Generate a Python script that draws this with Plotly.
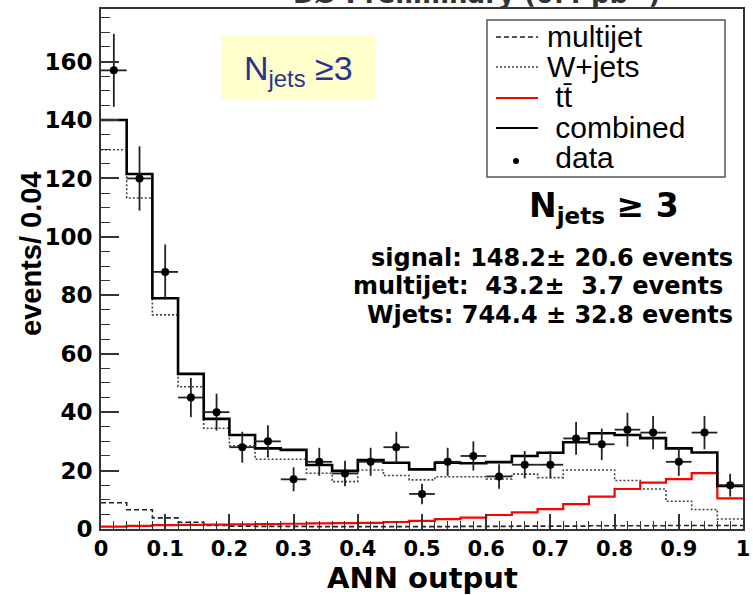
import plotly.graph_objects as go

# ANN output bins (lower edges, width 0.04)
bin_lo = [0.00, 0.04, 0.08, 0.12, 0.16, 0.20, 0.24, 0.28, 0.32, 0.36,
          0.40, 0.44, 0.48, 0.52, 0.56, 0.60, 0.64, 0.68, 0.72, 0.76,
          0.80, 0.84, 0.88, 0.92, 0.96]
bin_hi_last = 1.0
bin_centers = [0.02, 0.06, 0.10, 0.14, 0.18, 0.22, 0.26, 0.30, 0.34, 0.38,
               0.42, 0.46, 0.50, 0.54, 0.58, 0.62, 0.66, 0.70, 0.74, 0.78,
               0.82, 0.86, 0.90, 0.94, 0.98]

data_counts = [157, 120, 88, 45, 40, 28, 30, 17, 23, 19, 23, 28, 12, 23, 25,
               18, 22, 22, 31, 29, 34, 33, 23, 33, 15]
data_err = [12.5, 11.0, 9.4, 6.7, 6.3, 5.3, 5.5, 4.1, 4.8, 4.4, 4.8, 5.3, 3.5,
            4.8, 5.0, 4.2, 4.7, 4.7, 5.6, 5.4, 5.8, 5.7, 4.8, 5.7, 3.9]
multijet = [9.0, 6.6, 3.8, 2.3, 1.2, 1.0, 0.9, 0.9, 0.8, 0.8, 0.8, 0.8, 0.8,
            0.8, 0.9, 0.9, 1.0, 1.0, 1.0, 1.1, 1.1, 1.1, 1.2, 1.2, 1.2]
wjets = [129.8, 113.3, 73.3, 48.7, 34.5, 28.5, 23.9, 23.9, 19.1, 16.2, 20.2,
         18.3, 16.8, 17.9, 17.9, 17.1, 18.8, 17.6, 20.2, 20.2, 16.6, 13.7,
         9.5, 6.7, 3.4]
ttbar = [0.8, 1.1, 1.3, 1.4, 1.5, 1.6, 1.7, 1.8, 1.9, 2.0, 2.1, 2.4, 2.8, 3.4,
         3.9, 4.8, 5.7, 6.8, 8.5, 11.1, 13.7, 15.9, 17.1, 19.1, 10.5]
combined = [140.0, 121.5, 79.0, 53.1, 37.7, 32.2, 27.6, 27.1, 21.9, 19.9,
            23.6, 22.7, 20.4, 22.7, 22.5, 22.9, 25.0, 26.1, 29.7, 32.8, 32.2,
            31.1, 27.6, 26.2, 14.7]

legend_labels = ["multijet", "W+jets", " tt\u0304", " combined", " data"]
stat_lines = ["signal: 148.2\u00b1 20.6 events",
              "multijet:\u00a0 43.2\u00b1\u00a0 3.7 events",
              "Wjets: 744.4 \u00b1 32.8 events"]

W, H = 753, 595
ML, MR, MT, MB = 101, 10, 9, 66
PW, PH = W - ML - MR, H - MT - MB


def px(x):
    return (x - ML) / PW


def py(y):
    return (H - MB - y) / PH


def step(vals):
    return bin_lo + [bin_hi_last], vals + [vals[-1]]


fig = go.Figure()

for vals, color, width, dash in [
    (wjets, "#444444", 1.6, "2px,2px"),
    (multijet, "#222222", 1.6, "5px,3px"),
    (ttbar, "#ff0000", 2.2, "solid"),
    (combined, "#000000", 2.6, "solid"),
]:
    sx, sy = step(vals)
    fig.add_trace(go.Scatter(x=sx, y=sy, mode="lines", line_shape="hv",
                             line=dict(color=color, width=width, dash=dash),
                             showlegend=False, hoverinfo="skip"))

fig.add_trace(go.Scatter(
    x=bin_centers, y=data_counts, mode="markers",
    marker=dict(color="black", size=8),
    error_y=dict(type="data", array=data_err, width=0, thickness=1.8, color="#222"),
    error_x=dict(type="constant", value=0.02, width=0, thickness=1.8, color="#222"),
    showlegend=False))

shapes = []
annotations = []

# yellow label box
shapes.append(dict(type="rect", xref="paper", yref="paper",
                   x0=px(221), x1=px(376), y0=py(99), y1=py(35),
                   fillcolor="#ffffcc", line=dict(width=0), layer="below"))
annotations.append(dict(xref="paper", yref="paper", x=px(298), y=py(70),
                        xanchor="center", yanchor="middle", showarrow=False,
                        text="N<sub>jets</sub> \u22653",
                        font=dict(family="Liberation Sans", size=34, color="#2e3192")))

# legend box
shapes.append(dict(type="rect", xref="paper", yref="paper",
                   x0=px(487), x1=px(725), y0=py(177), y1=py(20),
                   fillcolor="white", line=dict(color="#555", width=1.5)))
samples = [(37, "#222", "5px,3px", 1.6), (67, "#444", "2px,2px", 1.6),
           (98, "#ff0000", "solid", 2.2), (128, "#000", "solid", 2.2)]
for (yy, c, d, w) in samples:
    shapes.append(dict(type="line", xref="paper", yref="paper",
                       x0=px(496), x1=px(538), y0=py(yy), y1=py(yy),
                       line=dict(color=c, dash=d, width=w)))
shapes.append(dict(type="circle", xref="paper", yref="paper",
                   x0=px(513), x1=px(519), y0=py(164), y1=py(158),
                   fillcolor="black", line=dict(width=0)))
leg_y = [36, 66, 97, 128, 157]
leg_x = [546, 546, 546, 546, 546]
for lab, yy, xx in zip(legend_labels, leg_y, leg_x):
    annotations.append(dict(xref="paper", yref="paper", x=px(xx), y=py(yy),
                            xanchor="left", yanchor="middle", showarrow=False,
                            text=lab, borderpad=0,
                            font=dict(family="Liberation Sans", size=30, color="black")))

# N_jets >= 3 heading and fit results
annotations.append(dict(xref="paper", yref="paper", x=px(604), y=py(207),
                        xanchor="center", yanchor="middle", showarrow=False,
                        text="N<sub>jets</sub> \u2265 3",
                        font=dict(family="DejaVu Sans", size=33, color="black",
                                  weight="bold")))
for txt, cx, cy in zip(stat_lines, [552, 538, 550], [258, 286, 315]):
    annotations.append(dict(xref="paper", yref="paper", x=px(cx), y=py(cy),
                            xanchor="center", yanchor="middle", showarrow=False,
                            text=txt,
                            font=dict(family="DejaVu Sans", size=24, color="black",
                                      weight="bold")))

# axis titles
annotations.append(dict(xref="paper", yref="paper", x=px(31), y=py(254),
                        xanchor="center", yanchor="middle", showarrow=False,
                        textangle=-90, text="events/ 0.04",
                        font=dict(family="Liberation Sans", size=29, color="black",
                                  weight="bold")))
annotations.append(dict(xref="paper", yref="paper", x=px(423), y=py(578),
                        xanchor="center", yanchor="middle", showarrow=False,
                        text="ANN output", borderpad=0,
                        font=dict(family="DejaVu Sans", size=29, color="black",
                                  weight="bold")))

# page title (mostly above the top edge)
annotations.append(dict(xref="paper", yref="paper", x=px(476), y=py(11),
                        xanchor="center", yanchor="bottom", showarrow=False,
                        text="D\u00d8 Preliminary (0.4 pb<sup>-1</sup>)",
                        font=dict(family="DejaVu Sans", size=26, color="#333",
                                  weight="bold")))

fig.update_layout(
    width=W, height=H,
    margin=dict(l=ML, r=MR, t=MT, b=MB, autoexpand=False),
    paper_bgcolor="white", plot_bgcolor="white",
    showlegend=False,
    shapes=shapes, annotations=annotations,
    xaxis=dict(range=[0, 1], tickmode="array",
               tickvals=[0, 0.1, 0.2, 0.3, 0.4, 0.5, 0.6, 0.7, 0.8, 0.9, 1.0],
               ticktext=["0", "0.1", "0.2", "0.3", "0.4", "0.5", "0.6", "0.7",
                         "0.8", "0.9", "1"],
               ticks="inside", ticklen=15, tickwidth=1.5, tickcolor="#333",
               minor=dict(dtick=0.02, ticks="inside", ticklen=8, tickwidth=1.2,
                          tickcolor="#333", showgrid=False),
               showline=True, linewidth=2, linecolor="#333", mirror=True,
               showgrid=False, zeroline=False,
               tickfont=dict(family="DejaVu Sans", size=21, color="black",
                             weight="bold"),
               ticklabelstandoff=0),
    yaxis=dict(range=[0, 178], tickmode="array",
               tickvals=[0, 20, 40, 60, 80, 100, 120, 140, 160],
               ticks="inside", ticklen=18, tickwidth=1.5, tickcolor="#333",
               minor=dict(dtick=5, ticks="inside", ticklen=9, tickwidth=1.2,
                          tickcolor="#333", showgrid=False),
               showline=True, linewidth=2, linecolor="#333", mirror=True,
               showgrid=False, zeroline=False,
               tickfont=dict(family="DejaVu Sans", size=23, color="black",
                             weight="bold"),
               ticklabelstandoff=2),
)

fig.write_html("out.html")
